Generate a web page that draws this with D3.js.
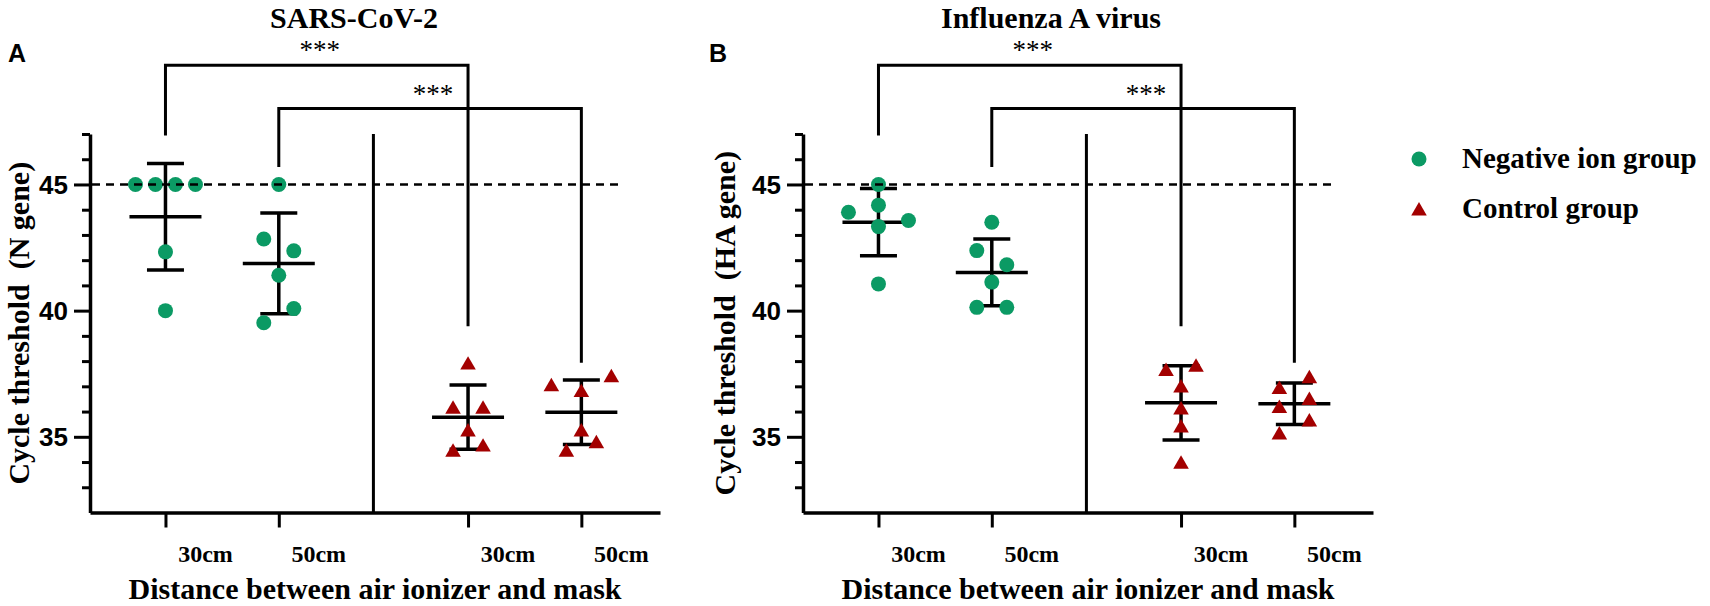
<!DOCTYPE html>
<html>
<head>
<meta charset="utf-8">
<script src="https://cdn.jsdelivr.net/npm/d3@7"></script>
<style>
  body { margin: 0; background: #fff; }
  svg { display: block; background: #fff; }
  text { white-space: pre; }
</style>
</head>
<body>
<div id="graph"></div>
<script>

// Data ---------------------------------------------------------------------------------

const groupLabels = ['30cm', '50cm', '30cm', '50cm'];
const groupKinds = ['neg', 'neg', 'ctrl', 'ctrl'];

// SARS-CoV-2, Ct values (N gene)
const sarsNeg30 = [45, 45, 45, 45, 42.33, 40.0];
const sarsNeg50 = [45, 42.84, 42.37, 41.40, 39.52, 40.08];
const sarsCtl30 = [37.92, 36.17, 36.17, 35.27, 34.47, 34.67];
const sarsCtl50 = [37.06, 36.83, 37.42, 35.27, 34.47, 34.80];

// Influenza A virus, Ct values (HA gene)
const fluNeg30 = [45, 43.90, 43.33, 43.57, 44.18, 41.06];
const fluNeg50 = [43.50, 42.38, 41.82, 41.13, 40.13, 40.13];
const fluCtl30 = [37.67, 37.84, 37.01, 36.14, 35.43, 33.99];
const fluCtl50 = [36.95, 37.38, 36.20, 36.52, 35.15, 35.67];

const panelTitles = ['SARS-CoV-2', 'Influenza A virus'];
const panelLetters = ['A', 'B'];
const yTitles = ['Cycle threshold  (N gene)', 'Cycle threshold  (HA gene)'];
const xTitle = 'Distance between air ionizer and mask';
const yDomain = [32, 47];
const yTicks = d3.range(33, 48);
const yLabelTicks = [35, 40, 45];
const detectionLimit = 45;
const legendLabels = ['Negative ion group', 'Control group'];

// significance brackets (group indices, bracket level and end levels in Ct units)
const sigPairs = [[0, 2], [1, 3]];
const sigLevels = [49.72, 48.01];
const sigEnds = [[46.94, 39.38], [45.69, 37.93]];
const sigStars = ['***', '***'];

//---------------------------------------------------------------------------------------

// Canevas

const width = 1710;
const height = 606;
const plotW = 570;
const gapSlots = 0.67;   // empty space between the two pairs of groups
const binSize = 0.62;    // Ct gap under which points share a row
const serif = "'Liberation Serif', 'Times New Roman', serif";
const sans = "'Liberation Sans', Arial, sans-serif";
const green = '#0b9a64';
const red = '#a30000';

const panels = [
  { left: 90, titleX: 354, letterX: 8, yTitleX: 29,
    groups: [sarsNeg30, sarsNeg50, sarsCtl30, sarsCtl50] },
  { left: 803, titleX: 1051, letterX: 709, yTitleX: 735,
    groups: [fluNeg30, fluNeg50, fluCtl30, fluCtl50] }
];

const svg = d3.select('#graph')
  .append('svg')
  .attr('width', width)
  .attr('height', height);

//---------------------------------------------------------------------------------------

// Scales

const slot = i => i + (i >= 2 ? gapSlots : 0);

const scaleX = d3.scaleLinear()
  .domain([-0.666, 4.364])
  .range([0, plotW]);

const scaleY = d3.scaleLinear()
  .domain(yDomain)
  .range([512.5, 134]);

const triangle = d3.symbol().type(d3.symbolTriangle).size(105);

// GraphPad-like spreading of points sharing the same row
function spread(values) {
  const order = d3.range(values.length).sort((a, b) => values[a] - values[b]);
  const rows = [];
  order.forEach(i => {
    const last = rows[rows.length - 1];
    if (last && values[i] - values[last[0]] < binSize) last.push(i);
    else rows.push([i]);
  });
  const offsets = new Array(values.length).fill(0);
  rows.forEach(r => {
    r.sort((a, b) => a - b);
    const step = r.length > 1 ? Math.min(30, 60 / (r.length - 1)) : 0;
    r.forEach((i, k) => { offsets[i] = (k - (r.length - 1) / 2) * step; });
  });
  return offsets;
}

//---------------------------------------------------------------------------------------

// Panels

panels.forEach((p, pi) => {

  const g = svg.append('g').attr('transform', `translate(${p.left},0)`);

  // titles
  svg.append('text')
    .attr('x', p.titleX).attr('y', 28)
    .attr('text-anchor', 'middle')
    .style('font-family', serif).style('font-weight', 'bold').style('font-size', '30px')
    .text(panelTitles[pi]);

  svg.append('text')
    .attr('x', p.letterX).attr('y', 62)
    .style('font-family', sans).style('font-weight', 'bold').style('font-size', '25px')
    .text(panelLetters[pi]);

  svg.append('text')
    .attr('transform', `translate(${p.yTitleX},${(scaleY(yDomain[0]) + scaleY(yDomain[1])) / 2}) rotate(-90)`)
    .attr('text-anchor', 'middle')
    .style('font-family', serif).style('font-weight', 'bold').style('font-size', '30px')
    .text(yTitles[pi]);

  // y axis
  const yAxis = g.append('g')
    .call(d3.axisLeft(scaleY)
      .tickValues(yTicks)
      .tickSize(8)
      .tickSizeOuter(0)
      .tickFormat(d => yLabelTicks.includes(d) ? d : ''));

  yAxis.select('.domain').attr('stroke-width', 3.5);
  yAxis.selectAll('.tick line')
    .attr('stroke-width', 3)
    .attr('x2', d => yLabelTicks.includes(d) ? -16 : -8);
  yAxis.selectAll('.tick text')
    .attr('x', -22)
    .attr('dy', '0.35em')
    .style('font-family', sans).style('font-weight', 'bold').style('font-size', '26px')
    .attr('fill', '#000');

  // x axis
  const xAxis = g.append('g')
    .attr('transform', `translate(0,${scaleY(yDomain[0])})`)
    .call(d3.axisBottom(scaleX)
      .tickValues(groupLabels.map((d, i) => slot(i)))
      .tickSize(15)
      .tickSizeOuter(0)
      .tickFormat(''));

  xAxis.select('.domain').attr('stroke-width', 3.5);
  xAxis.selectAll('.tick line').attr('stroke-width', 3);

  g.append('g')
    .selectAll('text')
    .data(groupLabels)
    .join('text')
    .attr('x', (d, i) => scaleX(slot(i)) + 40)
    .attr('y', 562)
    .attr('text-anchor', 'middle')
    .style('font-family', serif).style('font-weight', 'bold').style('font-size', '24px')
    .text(d => d);

  g.append('text')
    .attr('x', 285).attr('y', 599)
    .attr('text-anchor', 'middle')
    .style('font-family', serif).style('font-weight', 'bold').style('font-size', '30px')
    .text(xTitle);

  // divider between the two groups
  const midSlot = (slot(1) + slot(2)) / 2;
  g.append('line')
    .attr('x1', scaleX(midSlot)).attr('x2', scaleX(midSlot))
    .attr('y1', scaleY(yDomain[1])).attr('y2', scaleY(yDomain[0]))
    .attr('stroke', '#000').attr('stroke-width', 3);

  // significance brackets
  sigPairs.forEach(([a, b], k) => {
    const xa = scaleX(slot(a));
    const xb = scaleX(slot(b));
    const yl = scaleY(sigLevels[k]);
    g.append('path')
      .attr('d', `M${xa},${scaleY(sigEnds[k][0])}V${yl}H${xb}V${scaleY(sigEnds[k][1])}`)
      .attr('fill', 'none').attr('stroke', '#000').attr('stroke-width', 3);
    g.append('text')
      .attr('x', (xa + xb) / 2 + 3).attr('y', yl - 6)
      .attr('text-anchor', 'middle')
      .style('font-family', serif).style('font-size', '27px')
      .text(sigStars[k]);
  });

  // error bars (mean ± SD)
  p.groups.forEach((vals, i) => {
    const cx = scaleX(slot(i));
    const m = d3.mean(vals);
    const sd = d3.deviation(vals);
    const eb = g.append('g').attr('stroke', '#000').attr('stroke-width', 3.5);
    eb.append('line').attr('x1', cx).attr('x2', cx)
      .attr('y1', scaleY(m + sd)).attr('y2', scaleY(m - sd));
    eb.append('line').attr('x1', cx - 36).attr('x2', cx + 36)
      .attr('y1', scaleY(m)).attr('y2', scaleY(m));
    [m + sd, m - sd].forEach(v => {
      eb.append('line').attr('x1', cx - 18.5).attr('x2', cx + 18.5)
        .attr('y1', scaleY(v)).attr('y2', scaleY(v));
    });
  });

  // points
  p.groups.forEach((vals, i) => {
    const cx = scaleX(slot(i));
    const off = spread(vals);
    const pts = vals.map((v, j) => ({ x: cx + off[j], y: scaleY(v) }));
    if (groupKinds[i] === 'neg') {
      g.append('g').selectAll('circle')
        .data(pts)
        .join('circle')
        .attr('cx', d => d.x).attr('cy', d => d.y)
        .attr('r', 7.5)
        .attr('fill', green);
    } else {
      g.append('g').selectAll('path')
        .data(pts)
        .join('path')
        .attr('transform', d => `translate(${d.x},${d.y + 2})`)
        .attr('d', triangle)
        .attr('fill', red);
    }
  });

  // detection limit
  g.append('line')
    .attr('x1', 2).attr('x2', scaleX(slot(3) + 0.36))
    .attr('y1', scaleY(detectionLimit)).attr('y2', scaleY(detectionLimit))
    .attr('stroke', '#000').attr('stroke-width', 2.5)
    .attr('stroke-dasharray', '8,6');
});

//---------------------------------------------------------------------------------------

// Legend

const legend = svg.append('g').attr('transform', 'translate(1419,0)');

legend.append('circle')
  .attr('cx', 0).attr('cy', 159).attr('r', 7.5)
  .attr('fill', green);

legend.append('path')
  .attr('transform', 'translate(0,211)')
  .attr('d', triangle)
  .attr('fill', red);

legend.selectAll('text')
  .data(legendLabels)
  .join('text')
  .attr('x', 43)
  .attr('y', (d, i) => 168 + i * 50)
  .style('font-family', serif).style('font-weight', 'bold').style('font-size', '29px')
  .text(d => d);

</script>
</body>
</html>
